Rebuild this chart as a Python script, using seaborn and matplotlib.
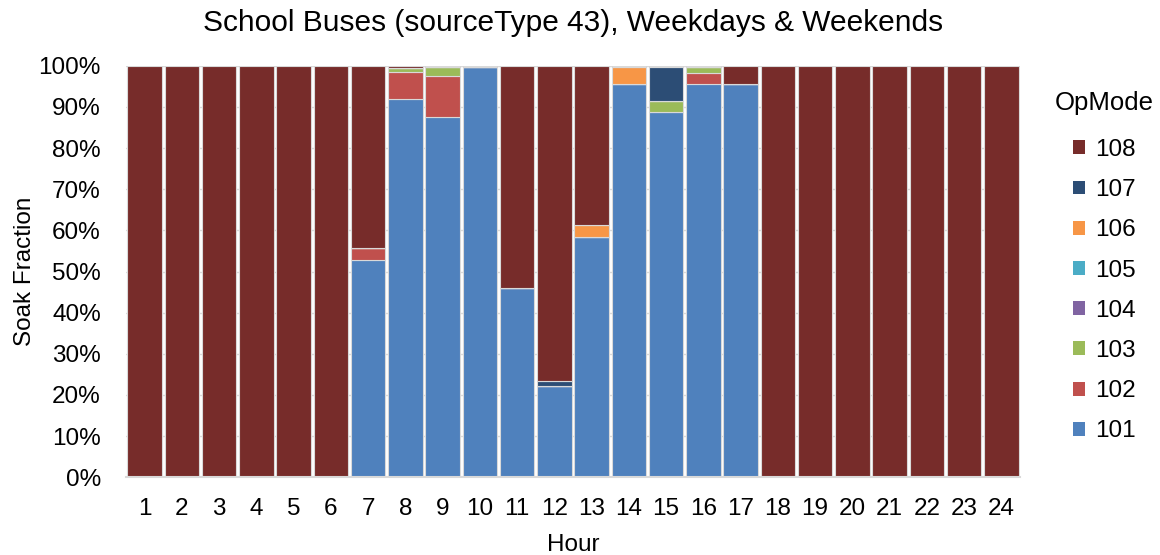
import pandas as pd
import numpy as np
import matplotlib
matplotlib.use('Agg')
import matplotlib.pyplot as plt
import seaborn as sns
from matplotlib.patches import Patch
from matplotlib.ticker import PercentFormatter, MultipleLocator

# ─── Data (soak fraction by hour, percent) ───
hours = list(range(1, 25))
opmodes = ['101', '102', '103', '104', '105', '106', '107', '108']

op101 = [0, 0, 0, 0, 0, 0, 52.7, 92.0, 87.6, 99.7, 45.9, 22.3, 58.5, 95.6, 88.8, 95.6, 95.6,
         0, 0, 0, 0, 0, 0, 0]
op102 = [0, 0, 0, 0, 0, 0, 2.9, 6.5, 10.0, 0, 0, 0, 0, 0, 0, 2.7, 0, 0, 0, 0, 0, 0, 0, 0]
op103 = [0, 0, 0, 0, 0, 0, 0, 1.0, 2.2, 0, 0, 0, 0, 0, 2.7, 1.3, 0, 0, 0, 0, 0, 0, 0, 0]
op104 = [0] * 24
op105 = [0] * 24
op106 = [0, 0, 0, 0, 0, 0, 0, 0, 0, 0, 0, 0, 2.7, 4.1, 0, 0, 0, 0, 0, 0, 0, 0, 0, 0]
op107 = [0, 0, 0, 0, 0, 0, 0, 0, 0, 0, 0, 1.1, 0, 0, 8.3, 0.2, 0, 0, 0, 0, 0, 0, 0, 0]
op108 = [100, 100, 100, 100, 100, 100, 44.4, 0.5, 0.2, 0.3, 54.1, 76.6, 38.8, 0.3, 0.2, 0.2, 4.4,
         100, 100, 100, 100, 100, 100, 100]

colors = {'101': '#4f81bd', '102': '#c0504d', '103': '#9bbb59', '104': '#8064a2',
          '105': '#4bacc6', '106': '#f79646', '107': '#2c4d75', '108': '#772c2a'}

series = [op101, op102, op103, op104, op105, op106, op107, op108]
rows = []
for mode, vals in zip(opmodes, series):
    for h, v in zip(hours, vals):
        rows.append({'Hour': h, 'OpMode': mode, 'Fraction': v / 100})
df = pd.DataFrame(rows)

# ─── Setup ───
sns.set_theme(style='white')
plt.rcParams['font.family'] = ['Liberation Sans', 'DejaVu Sans']
plt.rcParams['text.color'] = 'black'
plt.rcParams['axes.labelcolor'] = 'black'

fig = plt.figure(figsize=(11.6, 5.55), dpi=100)
ax = fig.add_axes([0.1086, 0.140, 0.7707, 0.7416])

# reversed hue order puts 101 at the bottom of each stack
sns.histplot(data=df, x='Hour', weights='Fraction', hue='OpMode',
             hue_order=opmodes[::-1], palette=colors, multiple='stack',
             discrete=True, shrink=0.93, alpha=1, edgecolor='#d9d9d9',
             linewidth=0.8, legend=False, ax=ax)

FS = 17.5
ax.set_xlim(0.5, 24.5)
ax.set_ylim(0, 1)
ax.yaxis.set_major_locator(MultipleLocator(0.1))
ax.yaxis.set_major_formatter(PercentFormatter(1.0, decimals=0))
ax.set_xticks(hours)
ax.grid(axis='y', color='#d9d9d9', linewidth=1)
ax.set_axisbelow(True)
for s in ['top', 'right', 'left']:
    ax.spines[s].set_visible(False)
ax.spines['bottom'].set_color('#d9d9d9')
ax.spines['bottom'].set_linewidth(1.5)
ax.tick_params(axis='both', length=0, labelsize=FS, colors='black')
ax.tick_params(axis='y', pad=18)
ax.tick_params(axis='x', pad=15)

ax.set_xlabel('Hour', fontsize=FS, labelpad=10)
ax.set_ylabel('Soak Fraction', fontsize=FS, labelpad=2)
ax.set_title('School Buses (sourceType 43), Weekdays & Weekends', fontsize=21.5,
             pad=25, color='black')

handles = [Patch(facecolor=colors[m], edgecolor='none', label=m) for m in opmodes[::-1]]
leg = fig.legend(handles=handles, title='OpMode', loc='upper center',
                 bbox_to_anchor=(0.952, 0.875), frameon=False, fontsize=FS,
                 title_fontsize=18.5, handlelength=0.5, handleheight=0.5,
                 handletextpad=0.4, labelspacing=0.75)
leg._legend_box.align = 'center'
leg._legend_box.sep = 17

plt.savefig('out.png', dpi=100)
plt.close()
